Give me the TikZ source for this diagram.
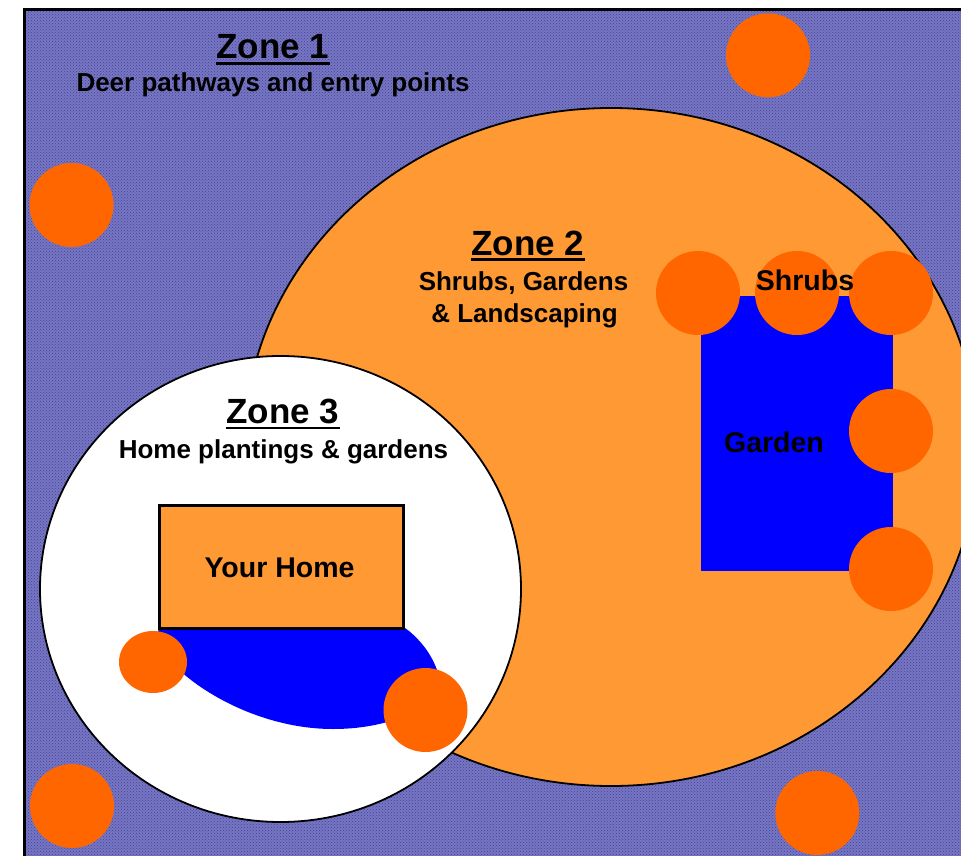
\documentclass[tikz,border=0pt]{standalone}
\usepackage{fontspec}
\setmainfont{Liberation Sans}
\usetikzlibrary{patterns}
\definecolor{bgbase}{RGB}{118,118,196}
\definecolor{bgdot}{RGB}{66,66,146}
\definecolor{lightorange}{RGB}{255,153,51}
\definecolor{darkorange}{RGB}{255,102,0}
\definecolor{gblue}{RGB}{0,0,255}
\begin{document}
\begin{tikzpicture}[x=1pt,y=-1pt,
  shrub/.style={fill=darkorange,draw=none},
  zoneline/.style={line width=1.8pt,draw=black},
  lbl/.style={inner sep=0pt,anchor=base,font=\bfseries\fontsize{26}{30}\selectfont},
  ttl/.style={inner sep=0pt,anchor=base,font=\bfseries\fontsize{35}{40}\selectfont},
  big/.style={inner sep=0pt,anchor=base,font=\bfseries\fontsize{28.5}{32}\selectfont},
  uline/.style={line width=2.2pt}]
\useasboundingbox (0,0) rectangle (961,856);
\begin{scope}
\clip (0,0) rectangle (961,856);
\fill[white] (0,0) rectangle (961,856);
% Zone 1 background
\fill[bgbase] (24,9.5) rectangle (975,870);
\fill[pattern=crosshatch dots, pattern color=bgdot] (24,9.5) rectangle (975,870);
\draw[line width=3pt] (24,870) -- (24,9.5) -- (975,9.5);
% Zone 2
\draw[zoneline, fill=lightorange] (611,447) ellipse [x radius=367pt, y radius=339pt];
% Zone 3
\draw[zoneline, fill=white] (280.5,589) ellipse [x radius=240.5pt, y radius=233pt];
% Garden
\fill[gblue] (701,296) rectangle (892.5,571);
\fill[shrub] (698,293) circle [radius=42pt];
\fill[shrub] (797,293) circle [radius=42pt];
\fill[shrub] (891,293) circle [radius=42pt];
\fill[shrub] (891,431) circle [radius=42pt];
\fill[shrub] (891,569) circle [radius=42pt];
% Home
\fill[gblue] (160,628) .. controls (140,650) and (230,729) .. (333,729)
  .. controls (400,729) and (450,700) .. (437,670)
  .. controls (430,650) and (415,635) .. (405,628) -- cycle;
\draw[line width=2.8pt, fill=lightorange] (159.3,505.5) rectangle (403.3,628.5);
\fill[shrub] (153,662) ellipse [x radius=34pt, y radius=31pt];
\fill[shrub] (425.5,710) circle [radius=42pt];
% Zone 1 shrubs
\fill[shrub] (768,55.3) circle [radius=42pt];
\fill[shrub] (71.5,205) circle [radius=42pt];
\fill[shrub] (72,806) circle [radius=42pt];
\fill[shrub] (817.3,813) circle [radius=42pt];
\end{scope}
% Texts
\node[ttl] (z1) at (273,59) {Zone 1};
\draw[uline] ([yshift=-4.5pt]z1.base west) -- ([yshift=-4.5pt]z1.base east);
\node[lbl] (d1) at (273,92) {Deer pathways and entry points};
\node[ttl] (z2) at (528,255) {Zone 2};
\draw[uline] ([yshift=-4.5pt]z2.base west) -- ([yshift=-4.5pt]z2.base east);
\node[lbl] (s2a) at (523.5,290) {Shrubs, Gardens};
\node[lbl] (s2b) at (524.5,322) {\& Landscaping};
\node[ttl] (z3) at (283,423.5) {Zone 3};
\draw[uline] ([yshift=-4.5pt]z3.base west) -- ([yshift=-4.5pt]z3.base east);
\node[lbl] (s3) at (283.5,458) {Home plantings \& gardens};
\node[big] (home) at (279.5,577) {Your Home};
\node[big] (garden) at (774,452) {Garden};
\node[big] (shrubs) at (805,290) {Shrubs};
\end{tikzpicture}
\end{document}
